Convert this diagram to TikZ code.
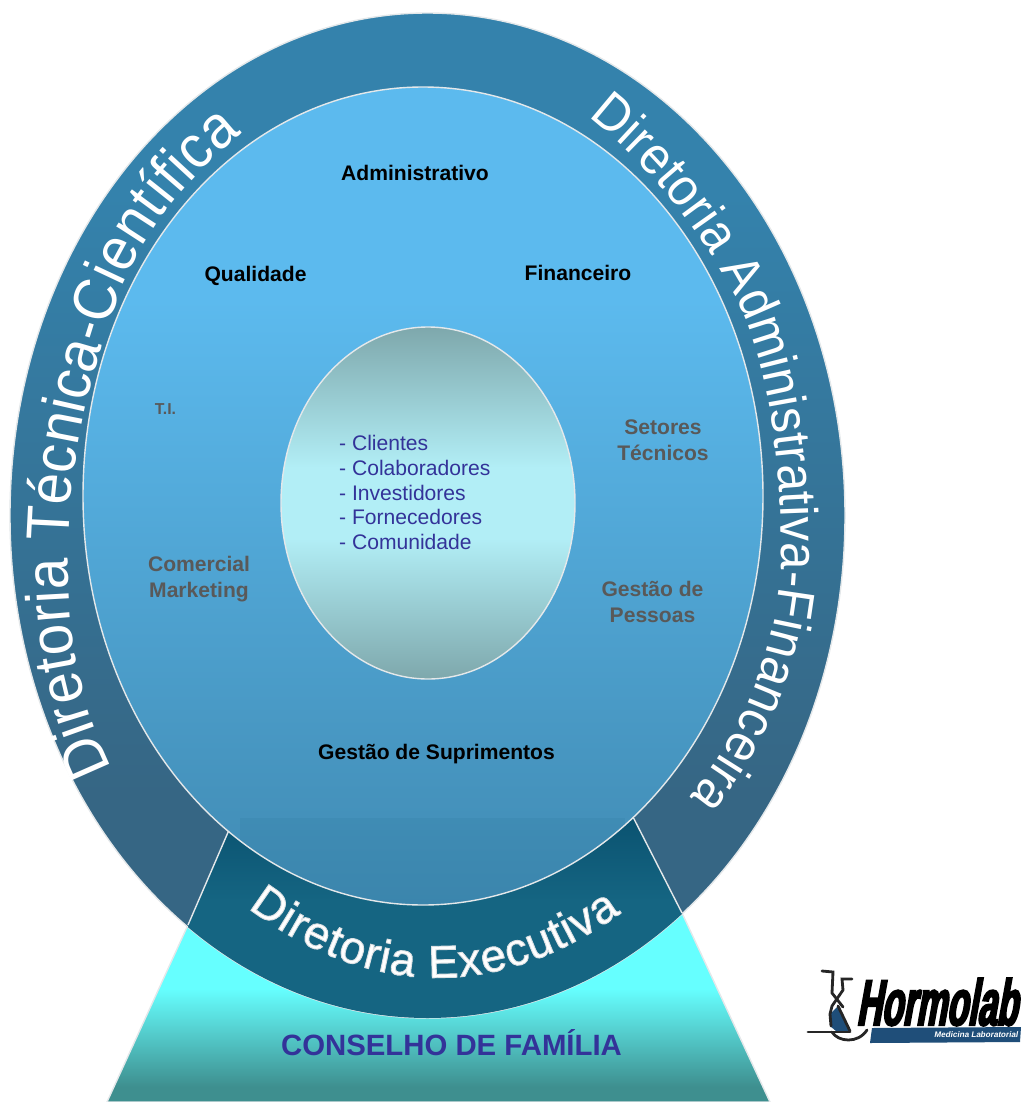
\documentclass[tikz,border=0pt]{standalone}
\usepackage{fontspec}
\setmainfont{Liberation Sans}
\newfontfamily\ringfont[FakeStretch=0.93]{Liberation Sans}
\newfontfamily\logofont[FakeSlant=0.18,FakeBold=3,FakeStretch=0.53]{Liberation Sans}
\newfontfamily\logosmall[FakeSlant=0.18]{Liberation Sans}
\newfontfamily\execfont[FakeBold=2]{Liberation Sans}
\usetikzlibrary{decorations.text}

\definecolor{ringtop}{RGB}{52,130,172}
\definecolor{ringbottom}{RGB}{54,102,132}
\definecolor{innertop}{RGB}{92,186,238}
\definecolor{innerbottom}{RGB}{64,138,178}
\definecolor{coreedge}{RGB}{126,168,172}
\definecolor{coremid}{RGB}{178,238,246}
\definecolor{exectop}{RGB}{10,82,112}
\definecolor{execbottom}{RGB}{21,101,130}
\definecolor{basetop}{RGB}{102,255,255}
\definecolor{basebottom}{RGB}{62,143,143}
\definecolor{indigo}{RGB}{51,51,153}
\definecolor{grayblue}{RGB}{31,78,121}
\definecolor{edgegray}{RGB}{228,232,234}

% a path's box takes the part from 25bp to 75bp
\pgfdeclareverticalshading{ringshade}{100bp}{color(0bp)=(ringbottom); color(36bp)=(ringbottom); color(66bp)=(ringtop); color(100bp)=(ringtop)}
\pgfdeclareverticalshading{innershade}{100bp}{color(0bp)=(innerbottom); color(25bp)=(innerbottom); color(62bp)=(innertop); color(100bp)=(innertop)}
\pgfdeclareverticalshading{coreshade}{100bp}{color(0bp)=(coreedge); color(25bp)=(coreedge); color(45bp)=(coremid); color(55bp)=(coremid); color(75bp)=(coreedge); color(100bp)=(coreedge)}
\pgfdeclareverticalshading{baseshade}{100bp}{color(0bp)=(basebottom); color(29bp)=(basebottom); color(55bp)=(basetop); color(100bp)=(basetop)}
\pgfdeclareverticalshading{execshade}{100bp}{color(0bp)=(execbottom); color(54bp)=(execbottom); color(75bp)=(exectop); color(100bp)=(exectop)}

\tikzset{
  blackarea/.style={font=\bfseries\fontsize{12}{14}\selectfont, text=black},
  grayarea/.style={font=\bfseries\fontsize{12}{15}\selectfont, text=black!65, align=center},
  edgeline/.style={draw=edgegray, line width=0.8pt},
  logoline/.style={line width=1.6pt, black!85, line cap=round}
}

\begin{document}
\begin{tikzpicture}[x=0.02cm, y=-0.02cm]

\useasboundingbox (0,0) rectangle (1023,1102);

% base
\shade[shading=baseshade, edgeline]
  (188,925) -- (107,1102) -- (770,1102) -- (682,913) -- cycle;

% outer ring
\shade[shading=ringshade, edgeline]
  (427.5,515.5) ellipse [x radius=417.5, y radius=502.5];

% executive wedge
\begin{scope}
\clip (427.5,515.5) ellipse [x radius=417.5, y radius=502.5];
\shade[shading=execshade]
  (229,830) -- (188,925) -- (188,1020) -- (682,1020) -- (682,913) -- (632,815) -- cycle;
\end{scope}
\draw[edgeline] (229,830) -- (188,925);
\draw[edgeline] (632,815) -- (682,913);

% inner area
\shade[shading=innershade]
  (423,496) ellipse [x radius=340, y radius=409];
\begin{scope}
\clip (423,496) ellipse [x radius=340, y radius=409];
\fill[exectop, opacity=0.08] (240,818) rectangle (625,910);
\end{scope}
\draw[edgeline] (423,496) ellipse [x radius=340, y radius=409];

% core
\shade[shading=coreshade, edgeline]
  (428,503) ellipse [x radius=147, y radius=176];

% ring labels
\path[decorate, decoration={text along path, text align=fit to path, text color=white,
    text={|\ringfont\fontsize{34.5}{34.5}\selectfont|Diretoria Técnica-Científica}}]
  (112,768) .. controls (85,715) and (68,650) .. (68,560) .. controls (68,470) and (85,390) .. (123,283) .. controls (150,225) and (190,175) .. (242,133);

\path[decorate, decoration={text along path, text align=fit to path, text color=white,
    text={|\ringfont\fontsize{30}{30}\selectfont|Diretoria Administrativa-Financeira}}]
  (588,117) .. controls (650,165) and (695,225) .. (732,290) .. controls (765,350) and (782,450) .. (781,560) .. controls (780,640) and (745,730) .. (690,797);

\path[decorate, decoration={text along path, text align=fit to path, text color=white,
    text={|\execfont\fontsize{26}{26}\selectfont\special{pdf:code 0.86 0.88 0.89 RG}|Diretoria Executiva}}]
  (248,908) .. controls (370,1000) and (500,1000) .. (621,913);

% areas
\node[blackarea] (admin) at (415,173) {Administrativo};
\node[blackarea] (quality) at (255.5,276) {Qualidade};
\node[blackarea] (finance) at (578,273) {Financeiro};
\node[blackarea] (supply) at (436.5,754) {Gestão de Suprimentos};
\node[grayarea, font=\bfseries\fontsize{9}{10}\selectfont] (ti) at (165.5,409) {T.I.};
\node[grayarea] (tech) at (663,440) {Setores\\Técnicos};
\node[grayarea] (people) at (652.5,602) {Gestão de\\Pessoas};
\node[grayarea] (sales) at (199,579) {Comercial\\Marketing};

% core list
\node[anchor=west, align=left, text=indigo, font=\fontsize{12}{14}\selectfont] (parties) at (333,492.5)
  {- Clientes\\- Colaboradores\\- Investidores\\- Fornecedores\\- Comunidade};

\node[text=indigo, font=\bfseries\fontsize{16.7}{18}\selectfont] (council) at (451.5,1043) {CONSELHO DE FAMÍLIA};

% logo
\node[anchor=west, inner sep=0pt, text=black, font=\logofont\bfseries\fontsize{37}{37}\selectfont] (hormolab) at (856,1002) {Hormolab};
\fill[grayblue] (872,1028) -- (1021,1027) -- (1020,1042) -- (870,1043) -- cycle;
\node[inner sep=0pt, text=white, font=\logosmall\bfseries\fontsize{4.6}{5}\selectfont] (medicina) at (976,1035) {Medicina Laboratorial};
\fill[grayblue] (838,1006) -- (830,1014) -- (830,1026) -- (836,1031) -- (850,1031) -- cycle;
\draw[logoline] (822,971) -- (833,972) -- (832,993) -- (843,1007);
\draw[logoline] (852,979) -- (842,979) -- (843,990) -- (832,1006) -- (830,1014) -- (831,1026);
\draw[logoline] (838,1006) -- (850,1031);
\draw[logoline] (808,1032) -- (850,1032);
\draw[logoline] (832,1032) .. controls (838,1042) and (858,1044) .. (867,1030);

\end{tikzpicture}
\end{document}
